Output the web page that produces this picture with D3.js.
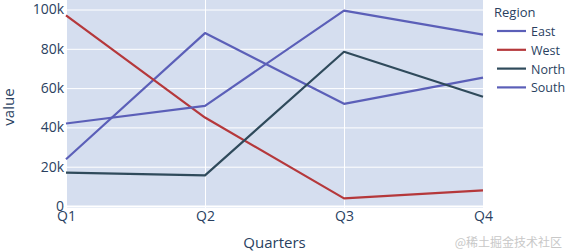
<!DOCTYPE html>
<html lang="en">
<head>
    <meta charset="UTF-8">
    <title>Quarterly value by region</title>
    <style>
        body{ margin:0; background:#fff;}
        text{ font-family:"Open Sans", "DejaVu Sans", sans-serif; fill:#2a3f5f;}
    </style>
</head>
<body>

<script src="https://cdn.jsdelivr.net/npm/d3@7"></script>
<script>

var quarters = ["Q1", "Q2", "Q3", "Q4"];
var regions = ["East", "West", "North", "South"];
var east  = [23800, 88000, 52000, 65300];
var west  = [97000, 45000, 3900, 8000];
var north = [17000, 15600, 78500, 55600];
var south = [42000, 51000, 99400, 87200];
var yTicks = [0, 20000, 40000, 60000, 80000, 100000];

var seriesValues = [east, west, north, south];
var colors = ["#5b5fb8", "#b5383b", "#2f4a5b", "#5b5fb8"];

var W = 566, H = 252;
var plot = { left:66, right:483, top:0, bottom:208 };

var svg = d3.select("body").append("svg")
        .attr("width", W)
        .attr("height", H);

var x = d3.scalePoint().domain(quarters).range([plot.left, plot.right]);
var y = d3.scaleLinear().domain([0, 100000]).range([206, 9.5]);

//plot background
svg.append("rect")
    .attr("x", plot.left).attr("y", plot.top)
    .attr("width", plot.right - plot.left)
    .attr("height", plot.bottom - plot.top)
    .attr("fill", "#d5deef");

//grid
var gy = svg.append("g").attr("transform", "translate(" + plot.left + ",0)")
    .call(d3.axisLeft(y).tickValues(yTicks).tickSize(-(plot.right - plot.left)).tickFormat(""));
gy.select(".domain").remove();
gy.selectAll("line").attr("stroke", "#fff").attr("stroke-width", function(d){ return d === 0 ? 2 : 1; });

var gx = svg.append("g").attr("transform", "translate(0," + plot.bottom + ")")
    .call(d3.axisBottom(x).tickSize(-(plot.bottom - plot.top)).tickFormat(""));
gx.select(".domain").remove();
gx.selectAll("line").attr("stroke", "#fff");

//tick labels
var ly = svg.append("g").attr("transform", "translate(" + plot.left + ",0)")
    .call(d3.axisLeft(y).tickValues(yTicks).tickSize(0).tickPadding(2)
        .tickFormat(function(d){ return d === 0 ? "0" : (d / 1000) + "k"; }));
ly.select(".domain").remove();
ly.selectAll("text").style("font-size", "14px").attr("fill", "#2a3f5f");

var lx = svg.append("g").attr("transform", "translate(0," + 208 + ")")
    .call(d3.axisBottom(x).tickSize(0).tickPadding(3));
lx.select(".domain").remove();
lx.selectAll("text").style("font-size", "14px").attr("fill", "#2a3f5f");

//lines
var line = d3.line()
    .x(function(d, i){ return x(quarters[i]); })
    .y(function(d){ return y(d); });

svg.selectAll(".series")
    .data(seriesValues)
    .enter().append("path")
    .attr("class", "series")
    .attr("d", line)
    .attr("fill", "none")
    .attr("stroke", function(d, i){ return colors[i]; })
    .attr("stroke-width", 2.2)
    .attr("stroke-linejoin", "round");

//axis titles
svg.append("text")
    .attr("transform", "translate(14,107) rotate(-90)")
    .attr("text-anchor", "middle")
    .style("font-size", "15px")
    .text("value");

svg.append("text")
    .attr("x", (plot.left + plot.right) / 2).attr("y", 248)
    .attr("text-anchor", "middle")
    .style("font-size", "15px")
    .text("Quarters");

//legend
var legend = svg.append("g").attr("transform", "translate(494,0)");
legend.append("text").attr("x", 0).attr("y", 17).style("font-size", "13px").text("Region");

var item = legend.selectAll(".item")
    .data(regions)
    .enter().append("g")
    .attr("class", "item")
    .attr("transform", function(d, i){ return "translate(0," + (31 + i * 18.8) + ")"; });

item.append("line")
    .attr("x1", 3).attr("x2", 32)
    .attr("stroke", function(d, i){ return colors[i]; })
    .attr("stroke-width", 2.2);

item.append("text")
    .attr("x", 37).attr("y", 5)
    .style("font-size", "12.5px")
    .text(function(d){ return d; });

//watermark
svg.append("text")
    .attr("x", 562).attr("y", 247)
    .attr("text-anchor", "end")
    .style("font-size", "12px")
    .style("font-family", "'Noto Sans CJK SC', sans-serif")
    .style("fill", "#c8c8c8")
    .text("@稀土掘金技术社区");

</script>

</body>
</html>
